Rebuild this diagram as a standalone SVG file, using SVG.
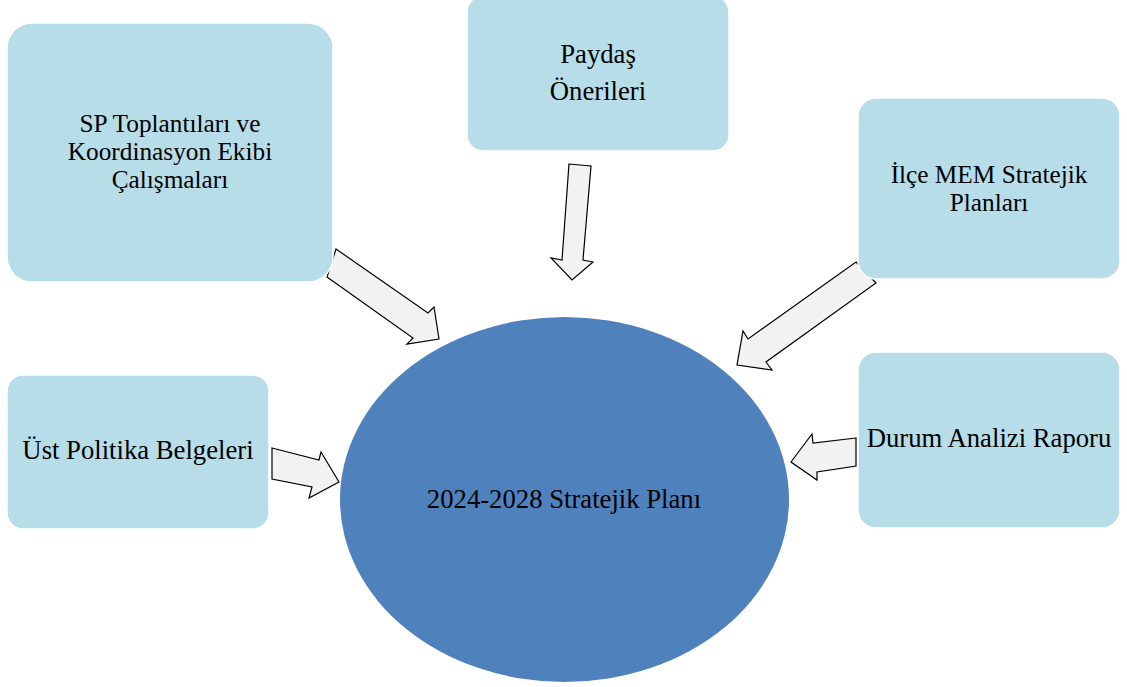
<svg xmlns="http://www.w3.org/2000/svg" width="1127" height="687" viewBox="0 0 1127 687">
<style>
.box{fill:#b7dde8;stroke:#ffffff;stroke-width:1.5}
.arrow{fill:#f2f2f2;stroke:#000000;stroke-width:1.2;stroke-linejoin:miter}
text{font-family:"Liberation Serif","Times New Roman",serif;font-size:26.7px;fill:#000000;text-anchor:middle}
.tight{font-size:25.3px}
</style>
<rect width="1127" height="687" fill="#ffffff"/>
<g id="connectors">
<polygon class="arrow" points="336,249 428,313 434,307 439,339 407,344 413,338 327,277"/>
<polygon class="arrow" points="569,164 591,166 583,260 593,262 572,280 551,258 562,260"/>
<polygon class="arrow" points="856,262 876,283 766,362 772,370 737,365 743,331 748,339"/>
<polygon class="arrow" points="272,448 319,460 321,452 339,482 309,498 312,487 272,479"/>
<polygon class="arrow" points="856,438 813,443 812,434 791,462 817,480 817,472 856,466"/>
</g>
<g id="node-center">
<ellipse cx="564.5" cy="499.5" rx="224.5" ry="182.5" fill="#4f81bd"/>
<text x="564" y="508">2024-2028 Stratejik Planı</text>
</g>
<g id="node-sp">
<rect class="box" x="7" y="23" width="326" height="259" rx="25" ry="25"/>
<text class="tight" x="170" y="132">SP Toplantıları ve</text>
<text class="tight" x="170" y="160">Koordinasyon Ekibi</text>
<text class="tight" x="170" y="188">Çalışmaları</text>
</g>
<g id="node-paydas">
<rect class="box" x="467" y="-4" width="262" height="155" rx="16" ry="16"/>
<text x="598" y="63">Paydaş</text>
<text x="598" y="100">Önerileri</text>
</g>
<g id="node-ilce">
<rect class="box" x="858" y="98" width="262" height="181" rx="18" ry="18"/>
<text class="tight" x="989" y="183">İlçe MEM Stratejik</text>
<text class="tight" x="989" y="211">Planları</text>
</g>
<g id="node-ust">
<rect class="box" x="7" y="375" width="262" height="154" rx="16" ry="16"/>
<text x="138" y="459">Üst Politika Belgeleri</text>
</g>
<g id="node-durum">
<rect class="box" x="858" y="352" width="262" height="176" rx="18" ry="18"/>
<text x="989" y="447">Durum Analizi Raporu</text>
</g>
</svg>
